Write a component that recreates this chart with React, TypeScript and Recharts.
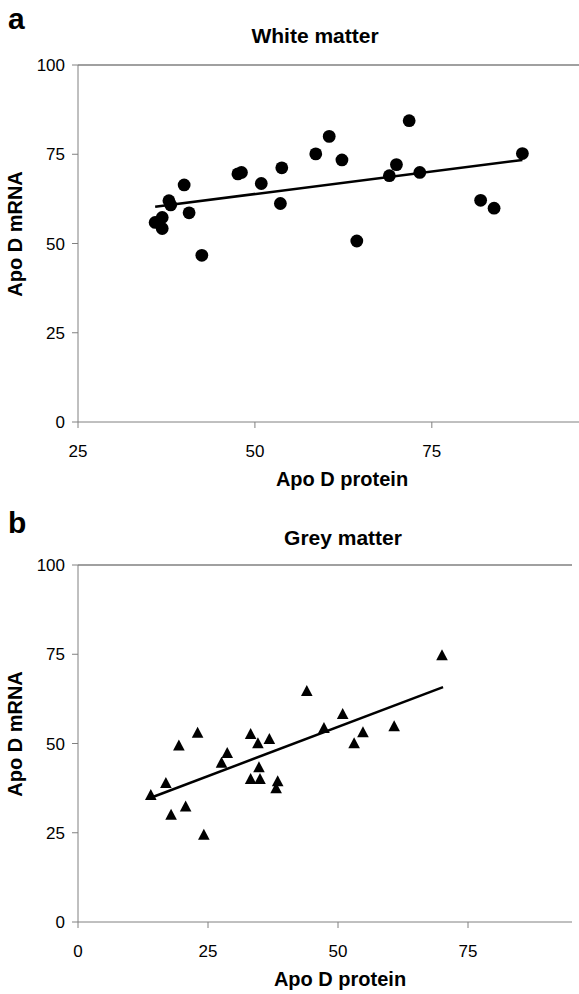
import React from "react";
import {
  ScatterChart,
  Scatter,
  XAxis,
  YAxis,
  ReferenceLine,
} from "recharts";

// White matter (panel a): Apo D protein vs Apo D mRNA
const whiteProtein = [35.9, 36.9, 36.9, 37.85, 38.1, 40.0, 40.7, 42.5, 47.6, 48.1, 50.9, 53.8, 53.6, 58.6, 60.5, 62.3, 64.4, 69.0, 70.0, 71.8, 73.3, 81.9, 83.8, 87.8];
const whiteMrna = [55.9, 57.3, 54.2, 62.0, 60.8, 66.4, 58.6, 46.7, 69.5, 69.9, 66.8, 71.2, 61.2, 75.1, 80.0, 73.4, 50.7, 69.0, 72.1, 84.4, 69.9, 62.1, 59.9, 75.2];
const whiteTrendX = [35.9, 87.8];
const whiteTrendY = [60.3, 73.4];

// Grey matter (panel b)
const greyProtein = [14.0, 16.9, 17.9, 19.4, 20.7, 23.0, 24.2, 27.6, 28.7, 33.2, 33.2, 34.6, 34.8, 35.0, 36.8, 38.4, 38.1, 44.0, 47.3, 50.9, 53.1, 54.8, 60.8, 70.0];
const greyMrna = [35.4, 38.8, 29.9, 49.3, 32.2, 52.9, 24.3, 44.5, 47.2, 52.5, 39.9, 49.9, 43.2, 39.9, 51.1, 39.3, 37.3, 64.6, 54.2, 58.1, 49.9, 53.0, 54.7, 74.6];
const greyTrendX = [14.0, 70.2];
const greyTrendY = [34.8, 65.8];

const yTicks = [0, 25, 50, 75, 100];
const whiteXTicks = [25, 50, 75];
const greyXTicks = [0, 25, 50, 75];

const FONT = "'Liberation Sans', Arial, sans-serif";
const AXIS = "#808080";

const pair = (xs: number[], ys: number[]) => xs.map((x, i) => ({ x, y: ys[i] }));

// markers drawn at the cx/cy that recharts computes
const Dot = (p: any) => <circle cx={p.cx} cy={p.cy} r={6.4} fill="#000" />;
const Tri = (p: any) => (
  <polygon
    points={`${p.cx},${p.cy - 6.5} ${p.cx - 5.8},${p.cy + 4.5} ${p.cx + 5.8},${p.cy + 4.5}`}
    fill="#000"
  />
);

interface PanelProps {
  points: { x: number; y: number }[];
  trend: { x: number; y: number }[];
  domain: [number, number];
  xTicks: number[];
  marker: (p: any) => React.ReactElement;
  width: number;
}

function Panel({ points, trend, domain, xTicks, marker, width }: PanelProps) {
  const tick = { fill: "#000", fontSize: 17, fontFamily: FONT };
  return (
    <ScatterChart width={width} height={462} margin={{ top: 65, right: 0, bottom: 0, left: 0 }}>
      <XAxis
        type="number"
        dataKey="x"
        domain={domain}
        ticks={xTicks}
        allowDataOverflow
        height={40}
        stroke={AXIS}
        tickSize={6}
        tickMargin={17}
        tick={tick}
      />
      <YAxis
        type="number"
        dataKey="y"
        domain={[0, 100]}
        ticks={yTicks}
        width={78}
        stroke={AXIS}
        tickSize={6}
        tickMargin={7}
        tick={tick}
      />
      <ReferenceLine y={100} stroke={AXIS} strokeWidth={1.5} />
      <Scatter
        data={trend}
        line={{ stroke: "#000", strokeWidth: 2.5 }}
        shape={() => <g />}
        isAnimationActive={false}
      />
      <Scatter data={points} shape={marker} fill="#000" isAnimationActive={false} />
    </ScatterChart>
  );
}

export default function App() {
  const txt = { fontFamily: FONT, fontWeight: 700, fill: "#000" } as const;
  return (
    <div style={{ position: "absolute", left: 0, top: 0, width: 579, height: 994, background: "#fff" }}>
      <div style={{ position: "absolute", left: 0, top: 0 }}>
        <Panel
          points={pair(whiteProtein, whiteMrna)}
          trend={pair(whiteTrendX, whiteTrendY)}
          domain={[25, 95.8]}
          xTicks={whiteXTicks}
          marker={Dot}
          width={579}
        />
      </div>
      <div style={{ position: "absolute", left: 0, top: 500 }}>
        <Panel
          points={pair(greyProtein, greyMrna)}
          trend={pair(greyTrendX, greyTrendY)}
          domain={[0, 95]}
          xTicks={greyXTicks}
          marker={Tri}
          width={572}
        />
      </div>
      <svg
        width={579}
        height={994}
        style={{ position: "absolute", left: 0, top: 0, pointerEvents: "none" }}
      >
        <text x={8} y={29} fontSize={30} {...txt}>a</text>
        <text x={315} y={43} fontSize={21} textAnchor="middle" {...txt}>White matter</text>
        <text x={342} y={486} fontSize={20} textAnchor="middle" {...txt}>Apo D protein</text>
        <text transform="translate(22,234) rotate(-90)" fontSize={20} textAnchor="middle" {...txt}>Apo D mRNA</text>

        <text x={8} y={533} fontSize={30} {...txt}>b</text>
        <text x={343} y={545} fontSize={21} textAnchor="middle" {...txt}>Grey matter</text>
        <text x={340} y={986} fontSize={20} textAnchor="middle" {...txt}>Apo D protein</text>
        <text transform="translate(22,734) rotate(-90)" fontSize={20} textAnchor="middle" {...txt}>Apo D mRNA</text>
      </svg>
    </div>
  );
}
